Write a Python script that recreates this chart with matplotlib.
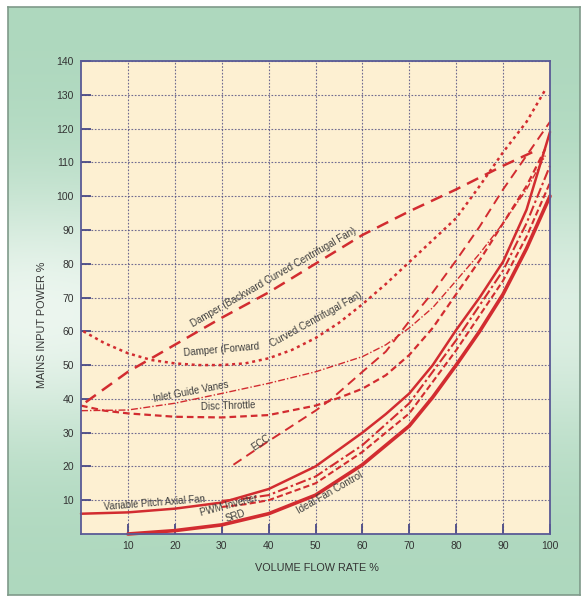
import numpy as np
import matplotlib
matplotlib.use("Agg")
import matplotlib.pyplot as plt

plt.rcParams['font.family'] = ['Liberation Sans', 'DejaVu Sans']

# values (volume flow % -> mains input power %)
back_x = [1, 5, 10, 15, 20, 25, 30, 40, 50, 60, 70, 80, 90, 97]
back_y = [39, 43, 48, 52, 56, 60, 64, 71.5, 80, 88.5, 95.5, 102, 109, 113.5]

fwd_x = [0.5, 5, 10, 15, 20, 25, 30, 35, 40, 45, 50, 55, 60, 65, 70, 75, 80, 85, 90, 95, 99]
fwd_y = [60, 56.5, 53.5, 51.5, 50.5, 50, 50, 50.5, 52, 54.5, 58, 62.5, 68, 74, 80.5, 87, 93.5, 103, 113, 122, 131.5]

igv_x = [0, 10, 20, 30, 40, 50, 60, 65, 70, 75, 80, 85, 90, 95, 99]
igv_y = [36.5, 36.7, 38.7, 41.6, 44.6, 48, 52.5, 56, 61, 67, 75, 83, 92, 102, 112]

disc_x = [0, 5, 10, 20, 30, 40, 50, 55, 60, 65, 70, 75, 80, 85, 90, 95, 99]
disc_y = [38, 36.5, 35.7, 34.7, 34.5, 35.2, 38, 40.3, 43, 47, 53, 61, 71, 81, 92, 103, 114]

ecc_x = [32.5, 40, 50, 53, 60, 65, 70, 75, 80, 85, 90, 95, 100]
ecc_y = [20.5, 27.5, 36.5, 39.5, 48, 54, 63, 71.5, 81, 91, 102, 112, 122]

vp_x = [0, 10, 20, 30, 40, 50, 60, 65, 70, 75, 80, 85, 90, 95, 100]
vp_y = [6, 6.4, 7.5, 9.3, 13.3, 20, 30, 35.5, 41.6, 50, 60.4, 70, 80.6, 96, 119]

pwm_x = [30, 35, 40, 50, 60, 70, 80, 90, 95, 100]
pwm_y = [9.8, 10.5, 11.5, 17, 26.3, 38.7, 57.4, 78, 92, 109]

srd_x = [30, 35, 40, 50, 60, 70, 80, 90, 95, 100]
srd_y = [8, 8.8, 10, 15, 24.3, 35.7, 54.4, 75, 88, 104]

ideal_x = [10, 20, 30, 40, 50, 60, 70, 75, 80, 85, 90, 95, 100]
ideal_y = [0, 1, 2.7, 6, 11.5, 20.5, 32, 40.5, 50, 60, 71, 84.5, 100]

x_ticks = [10, 20, 30, 40, 50, 60, 70, 80, 90, 100]
y_ticks = [10, 20, 30, 40, 50, 60, 70, 80, 90, 100, 110, 120, 130, 140]

W, H = 587, 604
fig = plt.figure(figsize=(W / 100, H / 100), dpi=100)
fig.patch.set_facecolor('white')

# green gradient panel behind everything
bg = fig.add_axes([8 / W, 1 - 595 / H, 572 / W, 588 / H], zorder=-2)
yy, xx = np.mgrid[0:1:300j, 0:1:300j]
w = np.exp(-((yy - 0.52) / 0.22) ** 2) * (0.75 + 0.25 * np.exp(-((xx - 0.05) / 0.25) ** 2))
dark = np.array([174, 216, 190]) / 255
light = np.array([236, 246, 239]) / 255
img = dark[None, None, :] * (1 - w[..., None]) + light[None, None, :] * w[..., None]
bg.imshow(img, aspect='auto', extent=[0, 1, 0, 1])
bg.set_xticks([])
bg.set_yticks([])
for s in bg.spines.values():
    s.set_color('#7f9a8a')
    s.set_linewidth(1.2)

ax = fig.add_axes([81 / W, 1 - 534 / H, 469 / W, 473 / H])
ax.set_facecolor('#fdf0d2')
ax.set_xlim(0, 100)
ax.set_ylim(0, 140)
ax.set_xticks(x_ticks)
ax.set_yticks(y_ticks)
ax.tick_params(direction='in', length=7, width=1.3, color='#4a4a86',
               labelsize=7.5, labelcolor='#333333', pad=5)
ax.grid(True, color='#4c4a80', linewidth=0.8, linestyle=(0, (1.5, 1.5)), alpha=0.8)
ax.set_axisbelow(True)
for s in ax.spines.values():
    s.set_color('#5a5a96')
    s.set_linewidth(1.3)

red = '#d22c30'
kw = dict(color=red, solid_capstyle='round', dash_capstyle='butt', clip_on=False)
ax.plot(back_x, back_y, linestyle=(0, (5, 3)), linewidth=1.8, **kw)
ax.plot(fwd_x, fwd_y, linestyle=(0, (1.2, 1.5)), linewidth=1.8, **kw)
ax.plot(igv_x, igv_y, linestyle=(0, (5, 1.5, 1, 1.5)), linewidth=1.0, **kw)
ax.plot(disc_x, disc_y, linestyle=(0, (3, 1.8)), linewidth=1.6, **kw)
ax.plot(ecc_x, ecc_y, linestyle=(0, (5, 3)), linewidth=1.4, **kw)
ax.plot(vp_x, vp_y, linestyle='-', linewidth=1.8, **kw)
ax.plot(pwm_x, pwm_y, linestyle=(0, (5, 1.5, 1.2, 1.5)), linewidth=1.5, **kw)
ax.plot(srd_x, srd_y, linestyle=(0, (3, 1.5)), linewidth=1.5, **kw)
ax.plot(ideal_x, ideal_y, linestyle='-', linewidth=2.6, **kw)

tc = '#3f3f3f'
fs = 7.0
ax.text(41, 76, 'Damper (Backward Curved Centrifugal Fan)', rotation=30,
        ha='center', va='center', fontsize=fs, color=tc)
ax.text(30, 54.5, 'Damper (Forward', rotation=5, ha='center', va='center', fontsize=fs, color=tc)
ax.text(50, 63.5, 'Curved Centrifugal Fan)', rotation=29, ha='center', va='center',
        fontsize=fs, color=tc)
ax.text(23.5, 42.2, 'Inlet Guide Vanes', rotation=11, ha='center', va='center', fontsize=fs, color=tc)
ax.text(31.3, 37.8, 'Disc Throttle', rotation=2, ha='center', va='center', fontsize=fs, color=tc)
ax.text(38.3, 27, 'ECC', rotation=35, ha='center', va='center', fontsize=fs, color=tc)
ax.text(15.6, 9.3, 'Variable Pitch Axial Fan', rotation=4.5, ha='center', va='center',
        fontsize=fs, color=tc)
ax.text(31.5, 8.6, 'PWM Inverter', rotation=15, ha='center', va='center', fontsize=fs, color=tc)
ax.text(33, 5.2, 'SRD', rotation=18, ha='center', va='center', fontsize=fs, color=tc)
ax.text(53, 12.2, 'Ideal Fan Control', rotation=30, ha='center', va='center', fontsize=fs, color=tc)

fig.text(317 / W, 1 - 568 / H, 'VOLUME FLOW RATE %', ha='center', va='center',
         fontsize=7.8, color='#333333')
fig.text(42 / W, 1 - 325 / H, 'MAINS INPUT POWER %', ha='center', va='center',
         rotation=90, fontsize=7.8, color='#333333')

fig.savefig('out.png', dpi=100)
